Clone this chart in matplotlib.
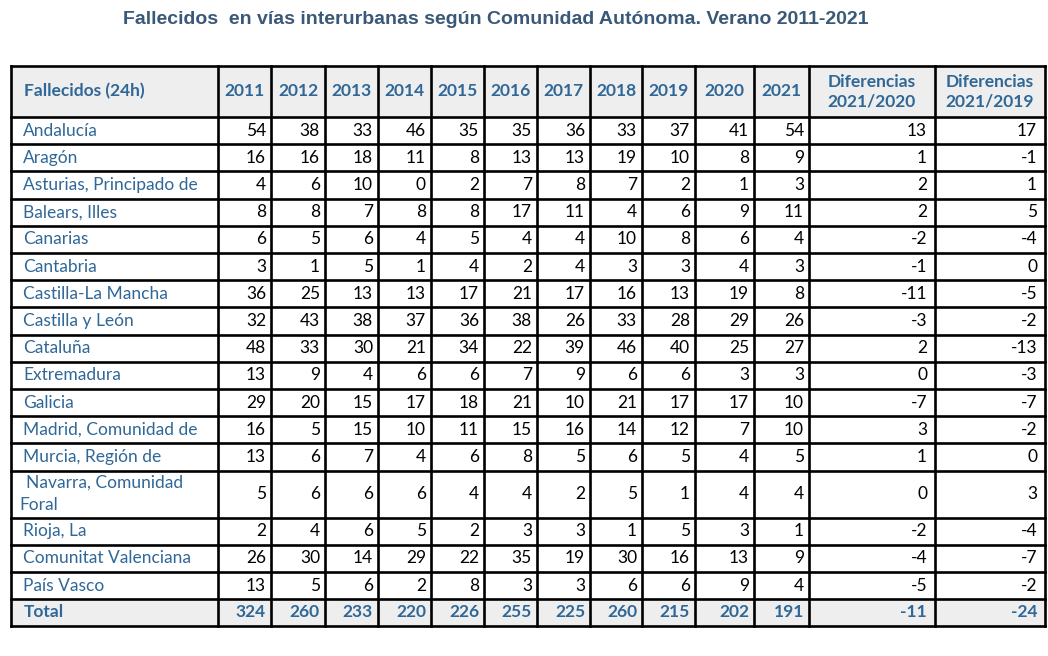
import matplotlib.pyplot as plt
from matplotlib.patches import Rectangle

title = "Fallecidos  en vías interurbanas según Comunidad Autónoma. Verano 2011-2021"
corner = "Fallecidos (24h)"
years = ["2011", "2012", "2013", "2014", "2015", "2016", "2017", "2018", "2019", "2020", "2021"]
diff_labels = ["Diferencias\n2021/2020", "Diferencias\n2021/2019"]

regions = ["Andalucía", "Aragón", "Asturias, Principado de", "Balears, Illes", "Canarias",
           "Cantabria", "Castilla-La Mancha", "Castilla y León", "Cataluña", "Extremadura",
           "Galicia", "Madrid, Comunidad de", "Murcia, Región de", "Navarra, Comunidad\nForal",
           "Rioja, La", "Comunitat Valenciana", "País Vasco"]

deaths = [
    [54, 38, 33, 46, 35, 35, 36, 33, 37, 41, 54],
    [16, 16, 18, 11, 8, 13, 13, 19, 10, 8, 9],
    [4, 6, 10, 0, 2, 7, 8, 7, 2, 1, 3],
    [8, 8, 7, 8, 8, 17, 11, 4, 6, 9, 11],
    [6, 5, 6, 4, 5, 4, 4, 10, 8, 6, 4],
    [3, 1, 5, 1, 4, 2, 4, 3, 3, 4, 3],
    [36, 25, 13, 13, 17, 21, 17, 16, 13, 19, 8],
    [32, 43, 38, 37, 36, 38, 26, 33, 28, 29, 26],
    [48, 33, 30, 21, 34, 22, 39, 46, 40, 25, 27],
    [13, 9, 4, 6, 6, 7, 9, 6, 6, 3, 3],
    [29, 20, 15, 17, 18, 21, 10, 21, 17, 17, 10],
    [16, 5, 15, 10, 11, 15, 16, 14, 12, 7, 10],
    [13, 6, 7, 4, 6, 8, 5, 6, 5, 4, 5],
    [5, 6, 6, 6, 4, 4, 2, 5, 1, 4, 4],
    [2, 4, 6, 5, 2, 3, 3, 1, 5, 3, 1],
    [26, 30, 14, 29, 22, 35, 19, 30, 16, 13, 9],
    [13, 5, 6, 2, 8, 3, 3, 6, 6, 9, 4],
]
diff_2020 = [13, 1, 2, 2, -2, -1, -11, -3, 2, 0, -7, 3, 1, 0, -2, -4, -5]
diff_2019 = [17, -1, 1, 5, -4, 0, -5, -2, -13, -3, -7, -2, 0, 3, -4, -7, -2]

totals = [324, 260, 233, 220, 226, 255, 225, 260, 215, 202, 191]
total_diffs = [-11, -24]

# layout (pixels)
col_edges = [11, 218, 271, 325, 378, 431, 484, 537, 590, 642, 695, 754, 809, 935, 1045]
row_heights = [51] + [27.2] * 13 + [47] + [27.2] * 3 + [26.5]
top = 66

blue = '#2f6797'
title_col = '#3a5878'
grey = '#eeeeee'
font = ['Lato', 'DejaVu Sans']

fig = plt.figure(figsize=(10.48, 6.56), dpi=100)
ax = fig.add_axes([0, 0, 1, 1])
ax.set_xlim(0, 1048)
ax.set_ylim(656, 0)
ax.axis('off')

ax.text(496, 19, title, ha='center', va='center', fontsize=14, fontweight='bold',
        color=title_col, family=['Liberation Sans Narrow', 'Liberation Sans', 'DejaVu Sans'])

row_edges = [top]
for h in row_heights:
    row_edges.append(row_edges[-1] + h)

# grey fills for header and total
for r in (0, len(row_heights) - 1):
    ax.add_patch(Rectangle((col_edges[0], row_edges[r]), col_edges[-1] - col_edges[0],
                           row_edges[r + 1] - row_edges[r], facecolor=grey, edgecolor='none'))

lw = 1.9
for y in row_edges:
    ax.plot([col_edges[0], col_edges[-1]], [y, y], color='black', lw=lw, solid_capstyle='projecting')
for x in col_edges:
    ax.plot([x, x], [row_edges[0], row_edges[-1]], color='black', lw=lw, solid_capstyle='projecting')

fs = 12.5

def cy(r):
    return (row_edges[r] + row_edges[r + 1]) / 2

# header
ax.text(col_edges[0] + 13, cy(0), corner, ha='left', va='center', fontsize=fs,
        fontweight='bold', color=blue, family=font)
for j, yr in enumerate(years):
    xc = (col_edges[j + 1] + col_edges[j + 2]) / 2
    ax.text(xc, cy(0), yr, ha='center', va='center', fontsize=fs, fontweight='bold',
            color=blue, family=font)
for j, lab in enumerate(diff_labels):
    xc = (col_edges[12 + j] + col_edges[13 + j]) / 2
    ax.text(xc, cy(0), lab, ha='center', va='center', fontsize=fs, fontweight='bold',
            color=blue, family=font, linespacing=1.25)

# body
for i, name in enumerate(regions):
    r = i + 1
    if '\n' in name:
        first, second = name.split('\n')
        ax.text(col_edges[0] + 15, cy(r) - 11, first, ha='left', va='center', fontsize=fs,
                color=blue, family=font)
        ax.text(col_edges[0] + 8, cy(r) + 11, second, ha='left', va='center', fontsize=fs,
                color=blue, family=font)
    else:
        ax.text(col_edges[0] + 12, cy(r), name, ha='left', va='center', fontsize=fs,
                color=blue, family=font)
    vals = deaths[i] + [diff_2020[i], diff_2019[i]]
    for j, v in enumerate(vals):
        pad = 8 if j >= 11 else 5
        ax.text(col_edges[j + 2] - pad, cy(r), str(v), ha='right', va='center', fontsize=fs,
                color='black', family=font)

# total
rt = len(row_heights) - 1
ax.text(col_edges[0] + 13, cy(rt), 'Total', ha='left', va='center', fontsize=fs,
        fontweight='bold', color=blue, family=font)
for j, v in enumerate(totals + total_diffs):
    pad = 8 if j >= 11 else 5
    ax.text(col_edges[j + 2] - pad, cy(rt), str(v), ha='right', va='center', fontsize=fs,
            fontweight='bold', color=blue, family=font)

fig.savefig('out.png', dpi=100)
